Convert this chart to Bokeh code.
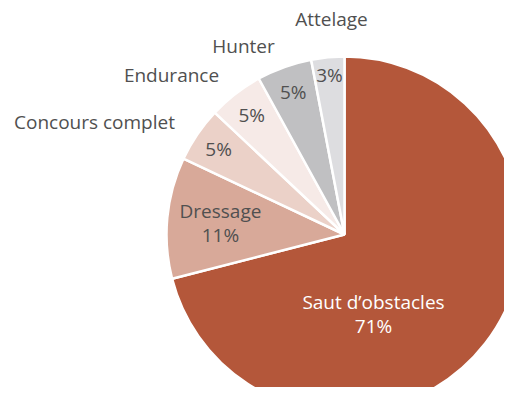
import math
from bokeh.plotting import figure
from bokeh.models import Range1d, ColumnDataSource
from bokeh.core.properties import value
from bokeh.embed import file_html
from bokeh.resources import INLINE

# ---- data ----
categories = ["Saut d\u2019obstacles", "Dressage", "Concours complet", "Endurance", "Hunter", "Attelage"]
shares = [71, 11, 5, 5, 5, 3]
colors = ["#b4573a", "#d8a999", "#ebd1c8", "#f6eae7", "#c0c0c2", "#dddde0"]

W, H = 504, 387
OFF = 1
p = figure(width=W, height=H, output_backend="svg", toolbar_location=None,
           x_range=Range1d(0, W), y_range=Range1d(0, H), min_border=0,
           background_fill_color="white", border_fill_color="white")
p.axis.visible = False
p.grid.visible = False
p.outline_line_color = None

def sx(x):  # screen px -> data
    return x - OFF
def sy(y):
    return H + OFF - y

cx, cy, R = sx(345), sy(235), 178

total = sum(shares)
starts, ends, mids = [], [], []
cum = 0.0
for v in shares:
    a0 = math.pi / 2 - 2 * math.pi * cum / total
    cum += v
    a1 = math.pi / 2 - 2 * math.pi * cum / total
    starts.append(a1)
    ends.append(a0)
    mids.append((a0 + a1) / 2)

src = ColumnDataSource(dict(start=starts, end=ends, color=colors))
p.wedge(x=cx, y=cy, radius=R, start_angle="start", end_angle="end",
        fill_color="color", line_color="white", line_width=2.5, source=src)

font = value("Open Sans")
fs = "19px"
grey = "#505050"

def label(x, y, t, color):
    p.text(x=[x], y=[y], text=[t], text_align="center", text_baseline="middle",
           text_color=color, text_font=font, text_font_size=fs)

# inside labels
radfac = [None, 0.70, 0.855, 0.85, 0.85, 0.90]
for i, (cat, v) in enumerate(zip(categories, shares)):
    pct = f"{v}%"
    if i == 0:
        lx, ly = sx(374), sy(314)
        label(lx, ly + 12, cat, "white")
        label(lx, ly - 12, pct, "white")
    elif i == 1:
        lx = cx + R * radfac[i] * math.cos(mids[i])
        ly = cy + R * radfac[i] * math.sin(mids[i])
        label(lx, ly + 12, cat, grey)
        label(lx, ly - 12, pct, grey)
    else:
        lx = cx + R * radfac[i] * math.cos(mids[i])
        ly = cy + R * radfac[i] * math.sin(mids[i])
        label(lx, ly, pct, grey)

# outside name labels for small slices
outer_pos = {2: (95, 122), 3: (172, 75), 4: (244, 46), 5: (332, 19)}
for i, (x, y) in outer_pos.items():
    label(sx(x), sy(y), categories[i], grey)

open("out.html", "w").write(file_html(p, INLINE))
